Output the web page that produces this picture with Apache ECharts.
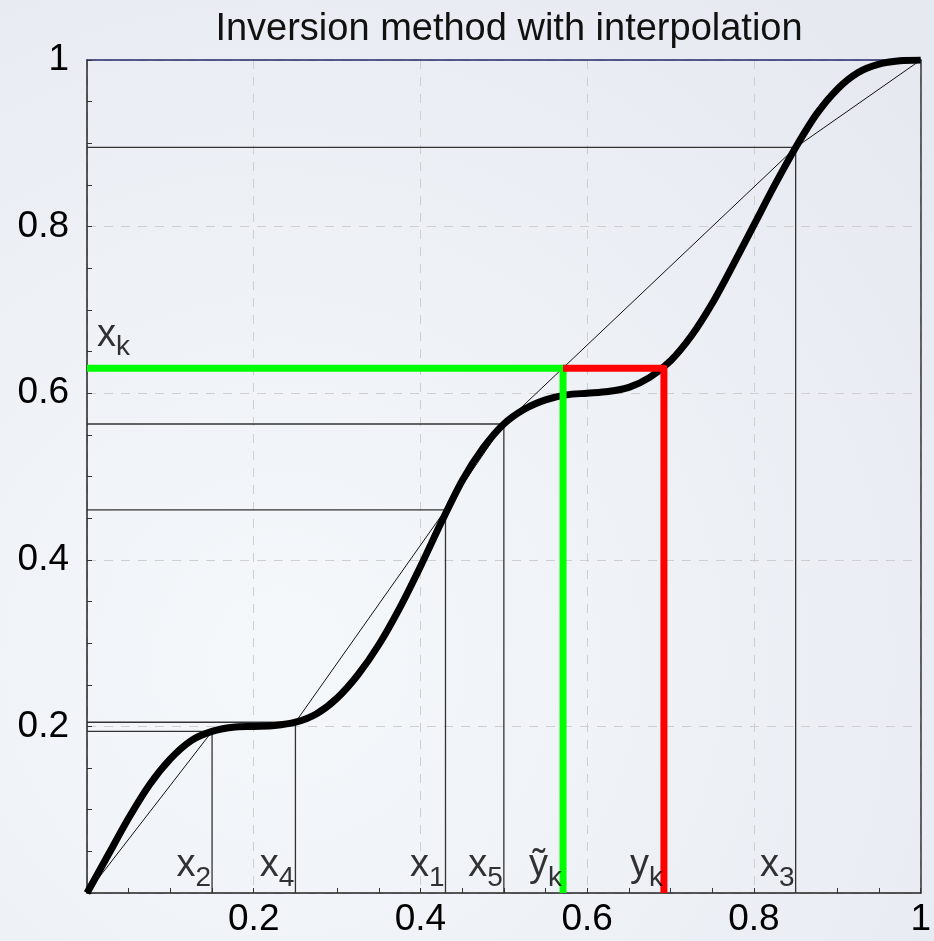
<!DOCTYPE html>
<html>
<head>
<meta charset="utf-8">
<script src="https://cdn.jsdelivr.net/npm/echarts@6/dist/echarts.min.js"></script>
<style>
  html, body { margin: 0; padding: 0; }
  #main { width: 934px; height: 941px; }
</style>
</head>
<body>
<div id="main"></div>
<script>
// distribution function
var curveX = [0, 0.025, 0.05, 0.075, 0.1, 0.125, 0.15, 0.175, 0.2, 0.225, 0.25, 0.275, 0.3,
    0.325, 0.35, 0.375, 0.4, 0.425, 0.45, 0.475, 0.5, 0.525, 0.55, 0.575, 0.6, 0.625,
    0.65, 0.675, 0.7, 0.725, 0.75, 0.775, 0.8, 0.825, 0.85, 0.875, 0.9, 0.925, 0.95, 0.975, 1];
var curveY = [0, 0.045, 0.09, 0.13, 0.161, 0.183, 0.194, 0.199, 0.2, 0.201, 0.205, 0.215, 0.234,
    0.262, 0.298, 0.342, 0.392, 0.445, 0.495, 0.534, 0.563, 0.581, 0.592, 0.598, 0.6, 0.602,
    0.607, 0.619, 0.639, 0.669, 0.708, 0.754, 0.802, 0.85, 0.895, 0.935, 0.965, 0.985, 0.995, 0.999, 1];

// interpolation nodes (sorted by x) and their subscripts
var nodeX = [0.15, 0.25, 0.43, 0.5, 0.85];
var nodeY = [0.194, 0.205, 0.46, 0.563, 0.895];
var nodeSub = ['2', '4', '1', '5', '3'];

var xk = 0.63;       // drawn value
var yTilde = 0.571;  // interpolated inverse
var yk = 0.692;      // exact inverse

var FONT = 'Liberation Sans, Arial, sans-serif';

var curveData = curveX.map(function (x, i) { return [x, curveY[i]]; });
var polyData = [[0, 0]].concat(nodeX.map(function (x, i) { return [x, nodeY[i]]; })).concat([[1, 1]]);
var guideData = nodeX.map(function (x, i) {
    return { coords: [[0, nodeY[i]], [x, nodeY[i]], [x, 0]] };
});

var subRich = {
    x: { fontSize: 38, lineHeight: 38, fontFamily: FONT, color: '#000', padding: [0, 0, 7, 0], verticalAlign: 'bottom' },
    s: { fontSize: 28, lineHeight: 28, fontFamily: FONT, color: '#000', verticalAlign: 'bottom' }
};
var bottomLabels = nodeX.map(function (x, i) {
    return { value: [x, 0], text: '{x|x}{s|' + nodeSub[i] + '}' };
});
bottomLabels.push({ value: [yTilde, 0], text: '{x|ỹ}{s|k}' });
bottomLabels.push({ value: [yk, 0], text: '{x|y}{s|k}' });

var myChart = echarts.init(document.getElementById('main'));

var option = {
    animation: false,
    backgroundColor: {
        type: 'radial', x: 0.3, y: 0.7, r: 0.9,
        colorStops: [{ offset: 0, color: '#f5f8fb' }, { offset: 1, color: '#e6e9f0' }]
    },
    title: {
        text: 'Inversion method with interpolation',
        left: 504,
        top: 6,
        textAlign: 'center',
        textStyle: { fontSize: 38, fontWeight: 'normal', fontFamily: FONT, color: '#111' }
    },
    grid: { left: 87, right: 13, top: 60, bottom: 48 },
    xAxis: [
        {
            type: 'value', min: 0, max: 1, interval: 0.2, position: 'bottom',
            axisLine: { onZero: false, lineStyle: { color: '#222', width: 1.5 } },
            axisTick: { inside: true, length: 5, lineStyle: { color: '#333' } },
            minorTick: { show: true, splitNumber: 4, length: 5, lineStyle: { color: '#333' } },
            axisLabel: { showMinLabel: false, fontSize: 37, fontFamily: FONT, color: '#000', margin: 8 },
            splitLine: { show: true, lineStyle: { color: '#cfcfcf', type: [9, 8] } }
        },
        {
            type: 'value', min: 0, max: 1, position: 'top',
            axisLine: { show: true, onZero: false, lineStyle: { color: '#26266a', width: 1.5 } },
            axisTick: { show: false }, axisLabel: { show: false }, splitLine: { show: false }
        }
    ],
    yAxis: [
        {
            type: 'value', min: 0, max: 1, interval: 0.2, position: 'left',
            axisLine: { show: true, onZero: false, lineStyle: { color: '#222', width: 1.5 } },
            axisTick: { show: true, inside: true, length: 5, lineStyle: { color: '#333' } },
            minorTick: { show: true, splitNumber: 4, length: 5, lineStyle: { color: '#333' } },
            axisLabel: { showMinLabel: false, fontSize: 37, fontFamily: FONT, color: '#000', margin: 18 },
            splitLine: { show: true, lineStyle: { color: '#cfcfcf', type: [9, 8] } }
        },
        {
            type: 'value', min: 0, max: 1, position: 'right',
            axisLine: { show: true, onZero: false, lineStyle: { color: '#333', width: 1.5 } },
            axisTick: { show: false }, axisLabel: { show: false }, splitLine: { show: false }
        }
    ],
    series: [
        {
            // piecewise linear interpolant
            type: 'line', data: polyData, symbol: 'none', z: 2,
            lineStyle: { color: '#111', width: 1 }
        },
        {
            type: 'lines', coordinateSystem: 'cartesian2d', polyline: true, z: 2,
            lineStyle: { color: '#333', width: 1.3, opacity: 1 },
            data: guideData
        },
        {
            type: 'line', data: curveData, symbol: 'none', smooth: 0.3, z: 3,
            lineStyle: { color: '#000', width: 7 }
        },
        {
            type: 'lines', coordinateSystem: 'cartesian2d', polyline: true, z: 4,
            lineStyle: { color: '#00ff00', width: 7, opacity: 1, join: 'miter' },
            data: [{ coords: [[0, xk], [yTilde, xk], [yTilde, 0]] }]
        },
        {
            type: 'lines', coordinateSystem: 'cartesian2d', polyline: true, z: 5,
            lineStyle: { color: '#ff0000', width: 7, opacity: 1, join: 'round' },
            data: [{ coords: [[yTilde, xk], [yk, xk], [yk, 0]] }]
        },
        {
            type: 'scatter', symbolSize: 0, z: 6, silent: true,
            data: bottomLabels,
            label: {
                show: true, position: [-1, -1], align: 'right', verticalAlign: 'bottom',
                formatter: function (p) { return bottomLabels[p.dataIndex].text; },
                rich: subRich
            }
        },
        {
            type: 'scatter', symbolSize: 0, z: 6, silent: true,
            data: [[0, xk]],
            label: {
                show: true, position: [10, -7], align: 'left', verticalAlign: 'bottom',
                formatter: '{x|x}{s|k}',
                rich: subRich
            }
        }
    ]
};

myChart.setOption(option);
</script>
</body>
</html>
